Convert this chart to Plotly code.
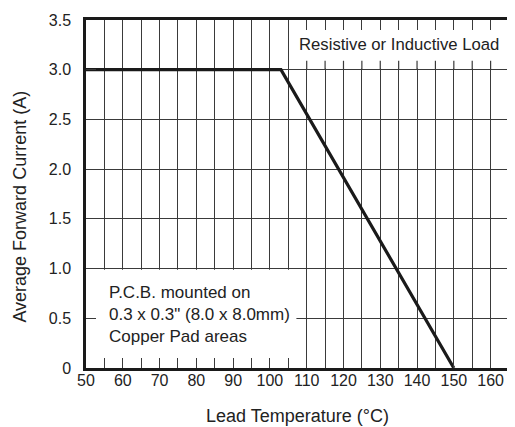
import plotly.graph_objects as go

# data
temp = [50, 103, 150]
current = [3.0, 3.0, 0.0]

x_ticks = list(range(50, 161, 5))
x_labels = [str(v) if v % 10 == 0 else "" for v in x_ticks]
y_ticks = [0, 0.5, 1.0, 1.5, 2.0, 2.5, 3.0, 3.5]
y_labels = ["0", "0.5", "1.0", "1.5", "2.0", "2.5", "3.0", "3.5"]

FONT = "Liberation Sans, Arial, sans-serif"
GRID = "#3a3a3a"
FS = 17
TFS = 16
AFS = 18

fig = go.Figure()
fig.add_trace(go.Scatter(x=temp, y=current, mode="lines",
                         line=dict(color="#1a1a1a", width=3.2),
                         showlegend=False, hoverinfo="skip"))

shapes = []
# white boxes covering grid (between grid and traces)
shapes.append(dict(type="rect", xref="x", yref="y", x0=105.25, x1=165, y0=3.012, y1=3.5,
                   fillcolor="white", line=dict(width=0), layer="between"))
shapes.append(dict(type="rect", xref="x", yref="y", x0=50, x1=107.2, y0=0, y1=0.988,
                   fillcolor="white", line=dict(width=0), layer="between"))
# tick stubs above 3.0 line in the top-right box
for v in x_ticks:
    if v > 105:
        shapes.append(dict(type="line", xref="x", yref="y", x0=v, x1=v, y0=3.0, y1=3.09,
                           line=dict(color=GRID, width=1.2), layer="above"))

# page body has an 8px margin, so the figure is sized/positioned to compensate
fig.update_layout(
    width=507, height=419,
    margin=dict(l=78, r=3, t=12, b=59),
    paper_bgcolor="white", plot_bgcolor="white",
    font=dict(family=FONT, size=FS, color="#222"),
    shapes=shapes,
    xaxis=dict(range=[50, 165], tickvals=x_ticks, ticktext=x_labels,
               ticks="inside", ticklen=10, tickwidth=1.2, tickcolor=GRID,
               showgrid=True, gridcolor=GRID, gridwidth=1.2,
               showline=True, linecolor="#1a1a1a", linewidth=2.5, mirror="ticks",
               zeroline=False, tickfont=dict(size=TFS, color="#222"),
               ticklabelstandoff=-4),
    yaxis=dict(range=[0, 3.5], tickvals=y_ticks, ticktext=y_labels,
               ticks="inside", ticklen=10, tickwidth=1.2, tickcolor=GRID,
               showgrid=True, gridcolor=GRID, gridwidth=1.2,
               showline=True, linecolor="#1a1a1a", linewidth=2.5, mirror="ticks",
               zeroline=False, tickfont=dict(size=TFS, color="#222"),
               ticklabelstandoff=9),
    annotations=[
        dict(text="Resistive or Inductive Load", xref="paper", yref="y",
             x=0.981, y=3.25, xanchor="right", yanchor="middle", showarrow=False,
             font=dict(size=16.7, color="#222")),
        dict(text="P.C.B. mounted on<br>0.3 x 0.3\" (8.0 x 8.0mm)<br>Copper Pad areas",
             xref="x", yref="y", x=55.8, y=0.54, xanchor="left", yanchor="middle",
             align="left", showarrow=False, font=dict(size=FS, color="#222")),
        dict(text="Lead Temperature (°C)", xref="paper", yref="paper",
             x=0.5, y=-0.138, xanchor="center", yanchor="middle", showarrow=False,
             font=dict(size=AFS, color="#222")),
        dict(text="Average Forward Current (A)", xref="paper", yref="paper",
             x=-0.157, y=0.4626, xanchor="center", yanchor="middle", textangle=-90,
             showarrow=False, font=dict(size=AFS, color="#222")),
    ],
)

fig.write_html("out.html")
